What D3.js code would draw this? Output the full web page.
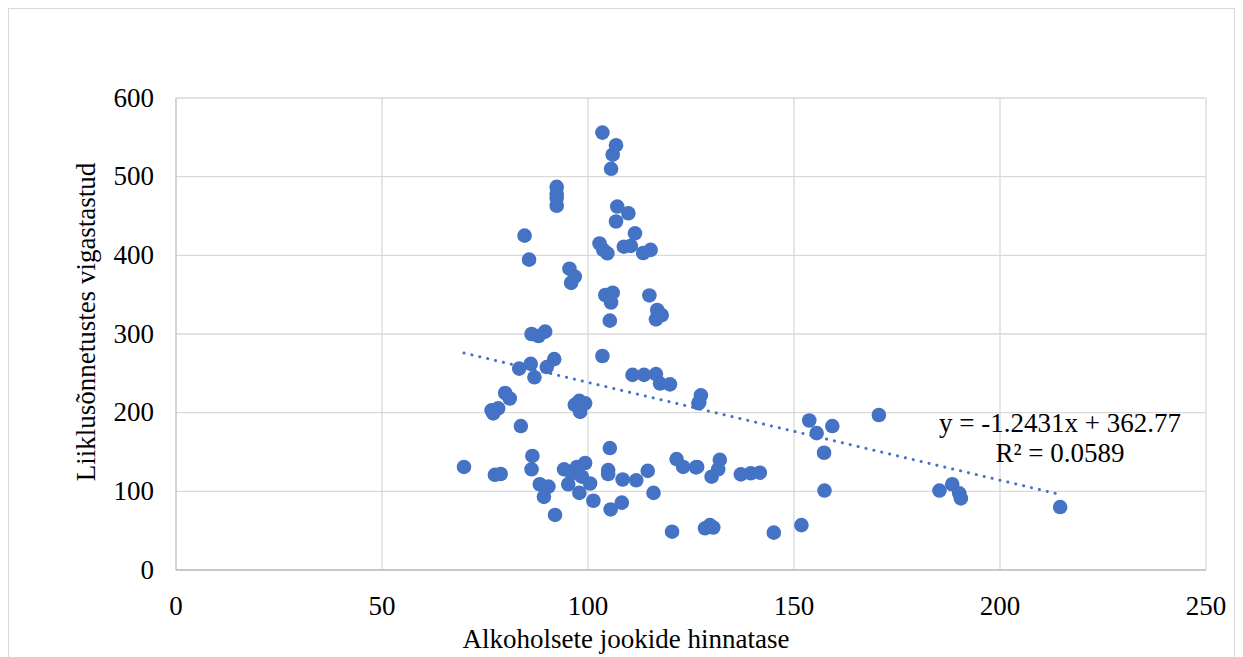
<!DOCTYPE html>
<html>
<head>
<meta charset="utf-8">
<script src="https://cdn.jsdelivr.net/npm/d3@7"></script>
<style>
	body { margin: 0; background: #fff; }
	text { font-family: "Liberation Serif", "Times New Roman", serif; fill: #000; }
</style>
</head>
<body>
<div id="chart-area"></div>
<script>
// price level of alcoholic drinks
const priceLevel = [
	69.9, 76.6, 77.0, 78.2, 77.4, 78.8, 79.9, 81.0, 83.3, 83.7,
	84.6, 85.7, 86.1, 86.3, 86.5, 86.3, 87.0, 88.0, 89.6, 90.0,
	91.8, 88.3, 90.4, 89.3, 92.0, 92.4, 92.4, 92.4, 92.4, 94.2,
	95.2, 95.5, 95.9, 96.8, 96.0, 96.8, 97.3, 97.9, 98.1, 98.5,
	99.3, 99.3, 97.9, 100.5, 101.3, 102.8, 103.5, 103.5, 103.7, 104.2,
	104.7, 104.9, 104.9, 105.3, 105.3, 105.5, 105.6, 105.6, 106.0, 106.0,
	106.8, 106.8, 107.1, 108.2, 108.4, 108.7, 109.8, 110.4, 110.8, 111.4,
	111.7, 113.4, 113.6, 114.5, 114.9, 115.2, 115.9, 116.5, 116.5, 116.8,
	117.5, 117.9, 119.9, 120.4, 121.5, 123.1, 126.2, 126.8, 127.0, 127.4,
	126.5, 128.4, 129.6, 130.0, 130.4, 131.6, 132.0, 137.1, 139.5, 141.7,
	145.1, 151.8, 153.7, 155.5, 157.3, 157.4, 159.3, 170.6, 185.3, 188.4,
	190.1, 190.5, 214.6
];
// injured in traffic accidents
const injured = [
	131, 203, 199, 205.5, 121, 122, 225, 218, 256, 183,
	425, 394.5, 262, 128, 145, 300, 245, 297.5, 303, 258,
	268, 109, 106, 93, 70, 487, 478, 473, 463, 128,
	109, 383, 365, 373, 123, 210, 131, 215, 201, 118.6,
	212, 136, 98, 110, 88, 415, 556, 272, 407, 349.6,
	402.6, 127, 122, 317, 155, 77, 510, 340, 528, 352.5,
	540, 443, 462, 85.6, 115, 411, 453.5, 412, 248, 428,
	114, 403, 248, 126, 349, 407, 98, 249, 318.6, 330.5,
	237, 324, 236, 48.7, 141, 131, 130.5, 212, 213, 222,
	131, 53, 57, 118.6, 54, 128, 140, 121.6, 123, 123.7,
	47.5, 57, 190, 174, 149, 101, 183, 197, 101, 109,
	97.5, 91, 80
];

const xTicks = [0, 50, 100, 150, 200, 250];
const yTicks = [0, 100, 200, 300, 400, 500, 600];
const slope = -1.2431;
const intercept = 362.77;
const eqLines = ["y = -1.2431x + 362.77", "R² = 0.0589"];

const margin = {top: 98, right: 37, bottom: 87, left: 176};
const height = 657;
const width = 1243;
const fontSize = 27;
const blue = "#4472C4";
const grid = "#D9D9D9";

var svg = d3.select("#chart-area").append("svg")
	.attr("width", width)
	.attr("height", height);

// outer chart border
svg.append("rect")
	.attr("x", 8.5)
	.attr("y", 8.5)
	.attr("width", 1226)
	.attr("height", 700)
	.attr("fill", "none")
	.attr("stroke", grid)
	.attr("stroke-width", 1);

var x = d3.scaleLinear()
	.domain([0, 250])
	.range([margin.left, width - margin.right]);

var y = d3.scaleLinear()
	.domain([0, 600])
	.range([height - margin.bottom, margin.top]);

// gridlines
svg.append("g")
	.selectAll("line")
	.data(yTicks)
	.enter().append("line")
	.attr("x1", x(0))
	.attr("x2", x(250))
	.attr("y1", d => y(d))
	.attr("y2", d => y(d))
	.attr("stroke", grid)
	.attr("stroke-width", 1.3);

svg.append("g")
	.selectAll("line")
	.data(xTicks)
	.enter().append("line")
	.attr("x1", d => x(d))
	.attr("x2", d => x(d))
	.attr("y1", y(0))
	.attr("y2", y(600))
	.attr("stroke", d => d === 0 ? "#BFBFBF" : grid)
	.attr("stroke-width", 1.3);

svg.append("line")
	.attr("x1", x(0))
	.attr("x2", x(250))
	.attr("y1", y(0))
	.attr("y2", y(0))
	.attr("stroke", "#BFBFBF")
	.attr("stroke-width", 1.3);

// tick labels
svg.append("g")
	.selectAll("text")
	.data(xTicks)
	.enter().append("text")
	.attr("x", d => x(d))
	.attr("y", y(0) + 45)
	.attr("text-anchor", "middle")
	.attr("font-size", fontSize)
	.text(d => d);

svg.append("g")
	.selectAll("text")
	.data(yTicks)
	.enter().append("text")
	.attr("x", x(0) - 22)
	.attr("y", d => y(d) + 8.5)
	.attr("text-anchor", "end")
	.attr("font-size", fontSize)
	.text(d => d);

// axis titles
svg.append("text")
	.attr("x", 626)
	.attr("y", 648)
	.attr("text-anchor", "middle")
	.attr("font-size", fontSize)
	.text("Alkoholsete jookide hinnatase");

svg.append("text")
	.attr("transform", "translate(95,322) rotate(-90)")
	.attr("text-anchor", "middle")
	.attr("font-size", fontSize)
	.text("Liiklusõnnetustes vigastastud");

// points
var points = priceLevel.map((p, i) => ({x: p, y: injured[i]}));

svg.selectAll(".dot")
	.data(points)
	.enter().append("circle")
	.attr("class", "dot")
	.attr("cx", d => x(d.x))
	.attr("cy", d => y(d.y))
	.attr("r", 7.3)
	.attr("fill", blue);

// linear trendline
var xMin = d3.min(priceLevel), xMax = d3.max(priceLevel);
var trend = [xMin, xMax].map(v => ({x: v, y: slope * v + intercept}));

svg.append("path")
	.datum(trend)
	.attr("fill", "none")
	.attr("stroke", blue)
	.attr("stroke-width", 3)
	.attr("stroke-linecap", "round")
	.attr("stroke-dasharray", "0.1,8")
	.attr("d", d3.line().x(d => x(d.x)).y(d => y(d.y)));

// equation label
svg.append("g")
	.selectAll("text")
	.data(eqLines)
	.enter().append("text")
	.attr("x", 1060)
	.attr("y", (d, i) => 432 + i * 30)
	.attr("text-anchor", "middle")
	.attr("font-size", fontSize)
	.text(d => d);
</script>
</body>
</html>
